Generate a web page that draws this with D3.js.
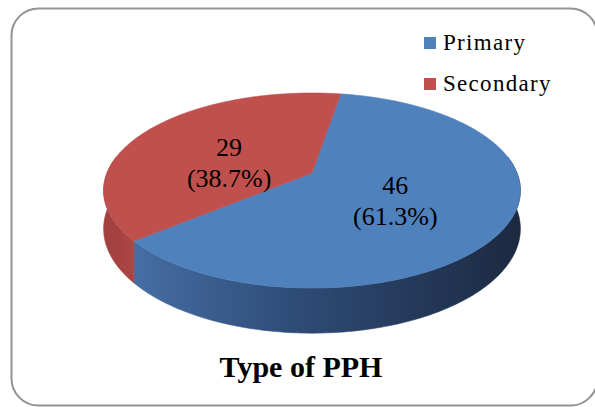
<!DOCTYPE html>
<html>
<head>
<meta charset="utf-8">
<script src="https://cdn.jsdelivr.net/npm/d3@7"></script>
<style>
  html, body { margin: 0; padding: 0; background: #ffffff; }
  svg { display: block; }
</style>
</head>
<body>
<div id="chart"></div>
<script>
// ---- Data ----
const categories = ["Primary", "Secondary"];
const values = [46, 29];
const topColors = ["#4F81BD", "#C0504D"];
const chartTitle = "Type of PPH";

// ---- Layout / style ----
const W = 595, H = 407;
const cx = 312, cy = 173;   // projected pie centre
const a = 205, b = 94.4;    // horizontal / depth scale
const k = 0.1795;           // perspective factor
const depth = 37;           // side height
const startDeg = 9.5;
const serif = '"Liberation Serif"';

const svg = d3.select("#chart").append("svg")
  .attr("width", W).attr("height", H);

// frame
svg.append("rect")
  .attr("x", 11.5).attr("y", 8.5)
  .attr("width", 586).attr("height", 397)
  .attr("rx", 27).attr("ry", 27)
  .attr("fill", "#ffffff")
  .attr("stroke", "#939393").attr("stroke-width", 2);

const defs = svg.append("defs");
const gBlue = defs.append("linearGradient").attr("id", "sideBlue")
  .attr("gradientUnits", "userSpaceOnUse")
  .attr("x1", cx - a).attr("x2", cx + a).attr("y1", 0).attr("y2", 0);
gBlue.append("stop").attr("offset", 0).attr("stop-color", "#4a74ab");
gBlue.append("stop").attr("offset", 0.45).attr("stop-color", "#2f4c78");
gBlue.append("stop").attr("offset", 1).attr("stop-color", "#1c2a41");
const gRed = defs.append("linearGradient").attr("id", "sideRed")
  .attr("gradientUnits", "userSpaceOnUse")
  .attr("x1", cx - a).attr("x2", cx - a + 40).attr("y1", 0).attr("y2", 0);
gRed.append("stop").attr("offset", 0).attr("stop-color", "#a34140");
gRed.append("stop").attr("offset", 1).attr("stop-color", "#ad4846");
const sideFills = ["url(#sideBlue)", "url(#sideRed)"];

const rad = d => d * Math.PI / 180;
const deg = r => r * 180 / Math.PI;

function proj(r, theta, dz) {
  const u = r * Math.sin(theta);
  const v = -r * Math.cos(theta);
  const w = 1 - k * v;
  return [cx + a * u / w, cy + b * v / w + (dz || 0) / w];
}

function arcPoints(t0, t1, dz) {
  const n = Math.max(2, Math.ceil(Math.abs(deg(t1 - t0))));
  const pts = [];
  for (let i = 0; i <= n; i++) pts.push(proj(1, t0 + (t1 - t0) * i / n, dz));
  return pts;
}

const pie = d3.pie().sort(null)
  .startAngle(rad(startDeg)).endAngle(rad(startDeg + 360));
const arcs = pie(values);
const total = d3.sum(values);

const line = d3.line();

// sides (front-visible range)
const vis0 = rad(80), vis1 = rad(280);
const sideG = svg.append("g");
arcs.forEach((d, i) => {
  [-2 * Math.PI, 0, 2 * Math.PI].forEach(off => {
    const s = Math.max(d.startAngle + off, vis0);
    const e = Math.min(d.endAngle + off, vis1);
    if (e > s) {
      const top = arcPoints(s, e, 0);
      const bot = arcPoints(e, s, depth);
      sideG.append("path")
        .attr("d", line(top.concat(bot)) + "Z")
        .attr("fill", sideFills[i])
        .attr("stroke", sideFills[i]).attr("stroke-width", 0.6);
    }
  });
});

// top faces
const topG = svg.append("g");
arcs.forEach((d, i) => {
  const pts = [proj(0, 0)].concat(arcPoints(d.startAngle, d.endAngle, 0));
  topG.append("path")
    .attr("d", line(pts) + "Z")
    .attr("fill", topColors[i])
    .attr("stroke", topColors[i]).attr("stroke-width", 0.6);
});

// data labels
arcs.forEach((d, i) => {
  const mid = (d.startAngle + d.endAngle) / 2;
  const [px, py] = proj(0.45, mid, 0);
  const lx = px - (i === 1 ? 6 : 0);
  const ly = py + (i === 1 ? 3 : -1);
  const pct = (values[i] / total * 100).toFixed(1) + "%";
  [String(values[i]), "(" + pct + ")"].forEach((s, j) => {
    svg.append("text")
      .attr("x", lx).attr("y", ly + j * 31)
      .attr("text-anchor", "middle")
      .style("font-family", serif).style("font-size", "26px")
      .attr("fill", "#000")
      .text(s);
  });
});

// legend
const legY = d3.scalePoint().domain(categories).range([50, 91]);
categories.forEach((c, i) => {
  svg.append("rect")
    .attr("x", 424).attr("y", legY(c) - 13)
    .attr("width", 12).attr("height", 12)
    .attr("fill", topColors[i]);
  svg.append("text")
    .attr("x", 443).attr("y", legY(c))
    .style("font-family", serif).style("font-size", "23px")
    .style("letter-spacing", "1.3px")
    .attr("fill", "#000")
    .text(c);
});

// title
svg.append("text")
  .attr("x", 301).attr("y", 377)
  .attr("text-anchor", "middle")
  .style("font-family", serif).style("font-weight", "bold").style("font-size", "30px")
  .attr("fill", "#000")
  .text(chartTitle);
</script>
</body>
</html>
